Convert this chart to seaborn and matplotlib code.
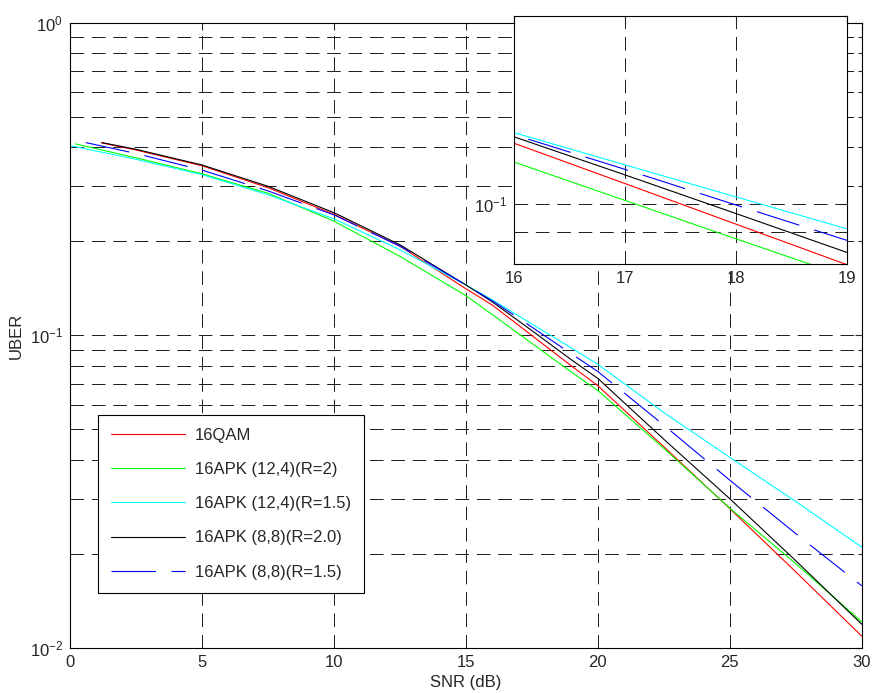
import matplotlib
matplotlib.use('Agg')
import matplotlib.pyplot as plt
import seaborn as sns
from matplotlib.ticker import LogLocator, NullFormatter, FixedLocator

# values
snr_16qam = [1.2, 2.5, 5, 7.5, 10, 12.5, 15, 16, 17, 18, 19, 20, 22.5, 25, 27.5, 30]
uber_16qam = [0.413, 0.392, 0.349, 0.297, 0.244, 0.193, 0.141, 0.125, 0.1077, 0.0927,
              0.0798, 0.0690, 0.0440, 0.0279, 0.0175, 0.0109]

snr_apk124_r2 = [0.2, 2.5, 5, 7.5, 10, 12.5, 15, 16, 17, 18, 19, 20, 22.5, 25, 27.5, 30]
uber_apk124_r2 = [0.410, 0.370, 0.329, 0.285, 0.232, 0.179, 0.134, 0.1166, 0.1012, 0.0878,
                  0.0763, 0.0666, 0.0435, 0.0280, 0.0186, 0.0121]

snr_apk124_r15 = [0, 2.5, 5, 7.5, 10, 12.5, 15, 16, 17, 18, 19, 20, 22.5, 25, 27.5, 30]
uber_apk124_r15 = [0.405, 0.366, 0.327, 0.282, 0.236, 0.188, 0.145, 0.130, 0.1154, 0.1025,
                   0.0911, 0.0808, 0.0566, 0.0407, 0.0294, 0.0210]

snr_apk88_r2 = [1.2, 2.5, 5, 7.5, 10, 12.5, 15, 16, 17, 18, 19, 20, 22.5, 25, 27.5, 30]
uber_apk88_r2 = [0.414, 0.394, 0.351, 0.300, 0.247, 0.195, 0.145, 0.128, 0.1112, 0.0964,
                 0.0835, 0.0728, 0.0465, 0.0300, 0.0190, 0.0119]

snr_apk88_r15 = [0.6, 2.5, 5, 7.5, 10, 12.5, 15, 16, 17, 18, 19, 20, 22.5, 25, 27.5, 30]
uber_apk88_r15 = [0.414, 0.382, 0.338, 0.290, 0.243, 0.193, 0.145, 0.129, 0.1135, 0.0995,
                  0.0873, 0.0766, 0.0516, 0.0344, 0.0232, 0.0158]

labels = ['16QAM', '16APK (12,4)(R=2)', '16APK (12,4)(R=1.5)',
          '16APK (8,8)(R=2.0)', '16APK (8,8)(R=1.5)']
xs = [snr_16qam, snr_apk124_r2, snr_apk124_r15, snr_apk88_r2, snr_apk88_r15]
ys = [uber_16qam, uber_apk124_r2, uber_apk124_r15, uber_apk88_r2, uber_apk88_r15]
colors = ['#ff0000', '#00ff00', '#00ffff', '#000000', '#0000ff']
styles = ['-', '-', '-', '-', (0, (40, 14))]

sns.set_style('white')
plt.rcParams['font.family'] = ['Liberation Sans', 'DejaVu Sans']
plt.rcParams['mathtext.fontset'] = 'custom'
plt.rcParams['mathtext.rm'] = 'Liberation Sans'
plt.rcParams['mathtext.it'] = 'Liberation Sans:italic'
plt.rcParams['font.size'] = 12

grid_kw = dict(color='0.1', linestyle=(0, (14, 8)), linewidth=0.7)

fig = plt.figure(figsize=(8.75, 6.93), dpi=100)
ax = fig.add_axes([0.080, 0.065, 0.905, 0.902])

for x, y, lab, c, ls in zip(xs, ys, labels, colors, styles):
    sns.lineplot(x=x, y=y, ax=ax, color=c, linewidth=0.8, linestyle=ls, label=lab)

ax.set_yscale('log')
ax.set_xlim(0, 30)
ax.set_ylim(1e-2, 1)
ax.set_xticks([0, 5, 10, 15, 20, 25, 30])
ax.yaxis.set_major_locator(LogLocator(base=10))
ax.yaxis.set_minor_locator(LogLocator(base=10, subs=range(2, 10)))
ax.yaxis.set_minor_formatter(NullFormatter())
ax.set_axisbelow(True)
ax.grid(True, which='major', axis='both', **grid_kw)
ax.grid(True, which='minor', axis='y', **grid_kw)
ax.tick_params(which='both', direction='in', top=True, right=True, labelsize=12, pad=5)
ax.tick_params(which='major', length=5, width=0.8)
ax.tick_params(which='minor', length=3, width=0.8)
for s in ax.spines.values():
    s.set_color('k')
    s.set_linewidth(0.8)
ax.set_xlabel('SNR (dB)', fontsize=12, labelpad=4)
ax.set_ylabel('UBER', fontsize=12, labelpad=4)

leg = ax.legend(loc='lower left', bbox_to_anchor=(0.0354, 0.088), fontsize=12,
                frameon=True, fancybox=False, edgecolor='k', framealpha=1,
                labelspacing=1.15, handlelength=4.4, handletextpad=0.6,
                borderpad=0.8, borderaxespad=0)
leg.get_frame().set_linewidth(0.8)

# zoomed inset
axin = fig.add_axes([0.5874, 0.619, 0.3806, 0.3579])
axin.set_facecolor('white')
for x, y, c, ls in zip(xs, ys, colors, styles):
    sns.lineplot(x=x, y=y, ax=axin, color=c, linewidth=0.8, linestyle=ls, legend=False)
axin.set_yscale('log')
axin.set_xlim(16, 19)
axin.set_ylim(0.08, 0.2)
axin.set_xticks([16, 17, 18, 19])
axin.yaxis.set_major_locator(FixedLocator([0.1]))
axin.yaxis.set_minor_locator(LogLocator(base=10, subs=range(2, 10)))
axin.yaxis.set_minor_formatter(NullFormatter())
axin.set_axisbelow(True)
axin.grid(True, which='major', axis='both', **grid_kw)
axin.grid(True, which='minor', axis='y', **grid_kw)
axin.tick_params(which='both', direction='in', top=True, right=True, labelsize=12, pad=5)
axin.tick_params(which='major', length=5, width=0.8)
axin.tick_params(which='minor', length=3, width=0.8)
for s in axin.spines.values():
    s.set_color('k')
    s.set_linewidth(0.8)
axin.set_xlabel('')
axin.set_ylabel('')

fig.savefig('out.png', dpi=100)
